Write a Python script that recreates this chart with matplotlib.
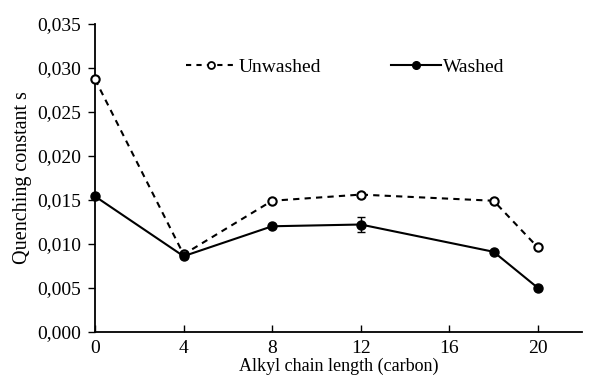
import numpy as np
import matplotlib as mpl
mpl.use('Agg')
import matplotlib.pyplot as plt
from matplotlib.lines import Line2D
from matplotlib.ticker import FuncFormatter

plt.rcParams['font.family'] = ['Liberation Serif', 'DejaVu Serif']
fontsize = 14
lw = 1.5

chain = [0, 4, 8, 12, 18, 20]
unwashed = [0.0287, 0.0088, 0.0149, 0.0156, 0.0149, 0.0096]
washed = [0.0154, 0.0086, 0.0120, 0.0122, 0.0091, 0.0050]
washed_err = [0, 0, 0, 0.00085, 0, 0]

fig = plt.figure(figsize=(5.94, 3.85), dpi=100)
ax = fig.add_axes([0.16, 0.138, 0.82, 0.8])

ax.plot(chain, unwashed, color='k', lw=lw, ls=(0, (3, 2.5)), marker='o',
        ms=6, mfc='white', mec='k', mew=1.5, clip_on=False, zorder=3)
ax.errorbar(chain, washed, yerr=washed_err, color='k', lw=lw, marker='o',
            ms=6.5, mfc='k', mec='k', capsize=3, elinewidth=1,
            clip_on=False, zorder=4)

ax.set_xlim(0, 22)
ax.set_ylim(0, 0.035)
ax.set_xticks([0, 4, 8, 12, 16, 20])
ax.set_yticks(np.arange(0, 0.0351, 0.005))
ax.yaxis.set_major_formatter(FuncFormatter(lambda v, p: ('%.3f' % v).replace('.', ',')))
ax.tick_params(axis='y', direction='out', length=5, width=1, labelsize=fontsize, pad=5)
ax.tick_params(axis='x', direction='in', length=5, width=1, labelsize=fontsize, pad=6)
for s in ['top', 'right']:
    ax.spines[s].set_visible(False)
for s in ['left', 'bottom']:
    ax.spines[s].set_linewidth(1.3)

ax.set_xlabel('Alkyl chain length (carbon)', fontsize=13, labelpad=0)
ax.set_ylabel('Quenching constant s', fontsize=14.5, labelpad=4)

h1 = Line2D([], [], color='k', lw=lw, ls=(0, (2.5, 2.5)), marker='o', ms=5,
            mfc='white', mec='k', mew=1.3)
h2 = Line2D([], [], color='k', lw=lw, marker='o', ms=5.5, mfc='k', mec='k')
ax.legend([h1, h2], ['Unwashed', 'Washed'], ncol=2, frameon=False, fontsize=fontsize,
          loc='center', bbox_to_anchor=(0.514, 0.86), columnspacing=3.6,
          handlelength=2.6, handletextpad=0.1)

plt.savefig('out.png', dpi=100)
